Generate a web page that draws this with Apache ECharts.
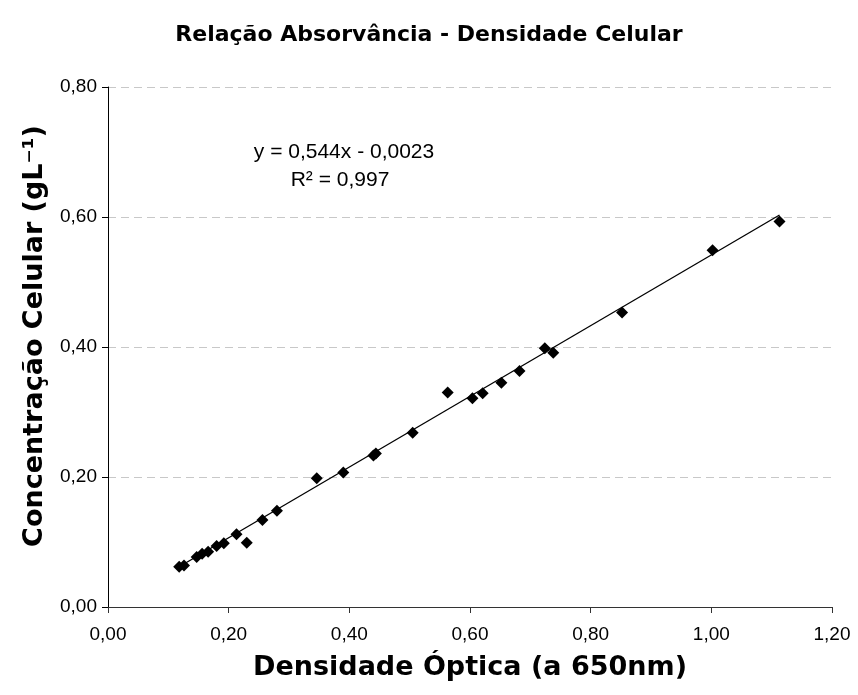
<!DOCTYPE html>
<html><head><meta charset="utf-8">
<script src="https://cdn.jsdelivr.net/npm/echarts@6/dist/echarts.min.js"></script>
<style>html,body{margin:0;padding:0;background:#fff}#c{width:858px;height:695px}</style>
</head><body><div id="c"></div>
<script>
var odValues = [0.118,0.126,0.147,0.156,0.166,0.180,0.192,0.213,0.230,0.256,0.280,0.346,0.390,0.440,0.444,0.505,0.563,0.604,0.621,0.652,0.682,0.724,0.738,0.852,1.002,1.113];
var concValues = [0.062,0.064,0.077,0.082,0.085,0.094,0.098,0.112,0.099,0.134,0.148,0.198,0.207,0.233,0.236,0.268,0.330,0.321,0.329,0.345,0.363,0.398,0.391,0.453,0.549,0.593];
var trendX = [0.118, 1.113];
var trendY = [0.062, 0.603];
var titleText = 'Relação Absorvância - Densidade Celular';
var xName = 'Densidade Óptica (a 650nm)';
var yName = 'Concentração Celular (gL⁻¹)';
var eqText = 'y = 0,544x - 0,0023';
var r2Text = 'R² = 0,997';

var pts = odValues.map(function(v,i){return [v, concValues[i]];});
var trend = trendX.map(function(v,i){return [v, trendY[i]];});
function fmt(v){return v.toFixed(2).replace('.',',');}

var chart = echarts.init(document.getElementById('c'), null, {renderer:'canvas'});
chart.setOption({
  animation:false,
  backgroundColor:'#fff',
  title:{text:titleText,left:'center',top:19,textStyle:{fontFamily:'DejaVu Sans',fontWeight:'bold',fontSize:22,color:'#000'}},
  grid:{left:108,right:26,top:87,bottom:88,containLabel:false},
  xAxis:{type:'value',min:0,max:1.2,interval:0.2,
    name:xName,nameLocation:'middle',nameGap:47,
    nameTextStyle:{fontFamily:'DejaVu Sans',fontWeight:'bold',fontSize:27,color:'#000'},
    axisLine:{show:true,lineStyle:{color:'#333',width:1}},
    axisTick:{show:true,length:6,lineStyle:{color:'#333'}},
    axisLabel:{formatter:fmt,fontFamily:'Liberation Sans',fontSize:19,color:'#000',margin:18},
    splitLine:{show:false}},
  yAxis:{type:'value',min:0,max:0.8,interval:0.2,
    name:yName,nameLocation:'middle',nameGap:60,nameRotate:90,
    nameTextStyle:{fontFamily:'DejaVu Sans',fontWeight:'bold',fontSize:27,color:'#000',padding:[0,0,0,22]},
    axisLine:{show:true,lineStyle:{color:'#000',width:1}},
    axisTick:{show:true,length:6,lineStyle:{color:'#000'}},
    axisLabel:{formatter:fmt,fontFamily:'Liberation Sans',fontSize:19,color:'#000',margin:11},
    splitLine:{show:true,lineStyle:{color:'#c8c8c8',type:[8,5],width:1}}},
  graphic:[
    {type:'text',x:344,y:152,style:{text:eqText,textAlign:'center',textVerticalAlign:'middle',font:'21px "Liberation Sans"',fill:'#000'}},
    {type:'text',x:340,y:180,style:{text:r2Text,textAlign:'center',textVerticalAlign:'middle',font:'21px "Liberation Sans"',fill:'#000'}}
  ],
  series:[
    {type:'line',data:trend,symbol:'none',lineStyle:{color:'#000',width:1.3},z:2,silent:true},
    {type:'scatter',data:pts,symbol:'diamond',symbolSize:12,itemStyle:{color:'#000',opacity:1},z:3}
  ]
});
</script></body></html>
